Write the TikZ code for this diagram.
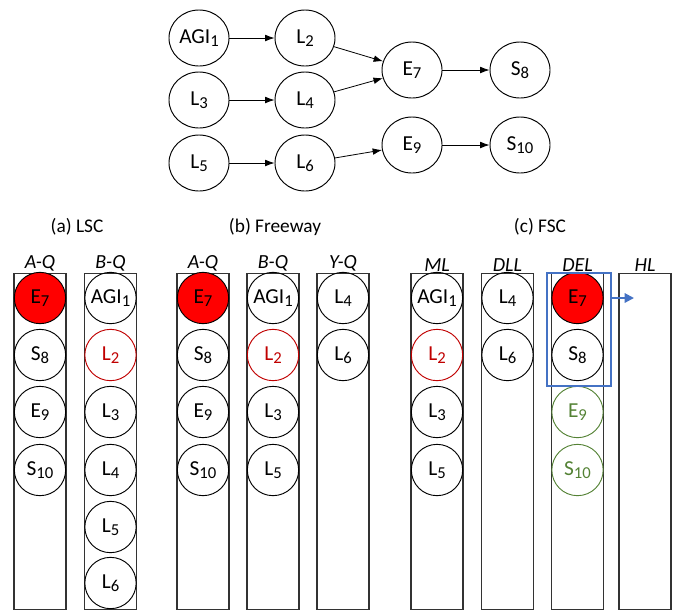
\documentclass[tikz,border=0pt]{standalone}
\usepackage{fontspec}
\setmainfont{Carlito}
\usetikzlibrary{arrows.meta,shapes.geometric}
\definecolor{myred}{HTML}{FF0000}
\definecolor{darkred}{HTML}{C00000}
\definecolor{mygreen}{HTML}{548235}
\definecolor{myblue}{HTML}{4472C4}
\definecolor{boxgray}{HTML}{333333}
\newcommand\tx[2]{#1\raisebox{-0.3ex}{\fontsize{12.5}{12.5}\selectfont #2}}
\begin{document}
\begin{tikzpicture}[x=0.75pt,y=-0.75pt,
  every node/.style={font=\fontsize{16}{18}\selectfont},
  gnode/.style={draw, ellipse, minimum width=45pt, minimum height=42pt, inner sep=0pt, line width=0.7pt},
  qnode/.style={draw, circle, minimum size=38.5pt, inner sep=0pt, line width=0.7pt},
  qbox/.style={draw=boxgray, rectangle, anchor=north, minimum width=39pt, minimum height=252pt, inner sep=0pt, line width=0.9pt},
  qlabel/.style={anchor=south, font=\fontsize{15}{17}\selectfont\itshape, inner sep=1pt},
  title/.style={font=\fontsize{14.5}{17}\selectfont},
  arr/.style={-{Latex[length=7pt,width=5pt]}, line width=0.6pt},
  redc/.style={qnode, fill=myred},
  redo/.style={qnode, draw=darkred, text=darkred},
  greeno/.style={qnode, draw=mygreen, text=mygreen}
]
\useasboundingbox (0,0) rectangle (673,611);
% top graph
\node[gnode] (agi) at (199,38) {\tx{AGI}{1}};
\node[gnode] (l2) at (305,38) {\tx{L}{2}};
\node[gnode] (l3) at (199,100) {\tx{L}{3}};
\node[gnode] (l4) at (305,100) {\tx{L}{4}};
\node[gnode] (l5) at (199,163) {\tx{L}{5}};
\node[gnode] (l6) at (305,163) {\tx{L}{6}};
\node[gnode] (e7) at (412,70) {\tx{E}{7}};
\node[gnode] (s8) at (520,70) {\tx{S}{8}};
\node[gnode] (e9) at (412,145) {\tx{E}{9}};
\node[gnode] (s10) at (520,145) {\tx{S}{10}};
\draw[arr] (agi) -- (l2);
\draw[arr] (l3) -- (l4);
\draw[arr] (l5) -- (l6);
\draw[arr] (l2) -- (e7);
\draw[arr] (l4) -- (e7);
\draw[arr] (l6) -- (e9);
\draw[arr] (e7) -- (s8);
\draw[arr] (e9) -- (s10);
% titles
\node[title] (ta) at (77,227) {(a) LSC};
\node[title] (tb) at (275,227) {(b) Freeway};
\node[title] (tc) at (540,227) {(c) FSC};
% boxes
\node[qbox] (b1) at (40,273) {};
\node[qbox] (b2) at (110.5,273) {};
\node[qbox] (b3) at (203,273) {};
\node[qbox] (b4) at (273,273) {};
\node[qbox] (b5) at (343,273) {};
\node[qbox] (b6) at (437,273) {};
\node[qbox] (b7) at (507.5,273) {};
\node[qbox] (b8) at (577.5,273) {};
\node[qbox] (b9) at (645,273) {};
\node[qlabel] (lb1) at (b1.north) {A-Q};
\node[qlabel] (lb2) at (b2.north) {B-Q};
\node[qlabel] (lb3) at (b3.north) {A-Q};
\node[qlabel] (lb4) at (b4.north) {B-Q};
\node[qlabel] (lb5) at (b5.north) {Y-Q};
\node[qlabel] (lb6) at (b6.north) {ML};
\node[qlabel] (lb7) at (b7.north) {DLL};
\node[qlabel] (lb8) at (b8.north) {DEL};
\node[qlabel] (lb9) at (b9.north) {HL};
% LSC A-Q
\node[redc] (a1) at (40,298) {\tx{E}{7}};
\node[qnode] (a2) at (40,355) {\tx{S}{8}};
\node[qnode] (a3) at (40,412) {\tx{E}{9}};
\node[qnode] (a4) at (40,470) {\tx{S}{10}};
% LSC B-Q
\node[qnode] (b21) at (110.5,298) {\tx{AGI}{1}};
\node[redo] (b22) at (110.5,355) {\tx{L}{2}};
\node[qnode] (b23) at (110.5,412) {\tx{L}{3}};
\node[qnode] (b24) at (110.5,470) {\tx{L}{4}};
\node[qnode] (b25) at (110.5,527) {\tx{L}{5}};
\node[qnode] (b26) at (110.5,583) {\tx{L}{6}};
% Freeway A-Q
\node[redc] (c1) at (203,298) {\tx{E}{7}};
\node[qnode] (c2) at (203,355) {\tx{S}{8}};
\node[qnode] (c3) at (203,412) {\tx{E}{9}};
\node[qnode] (c4) at (203,470) {\tx{S}{10}};
% Freeway B-Q
\node[qnode] (d1) at (273,298) {\tx{AGI}{1}};
\node[redo] (d2) at (273,355) {\tx{L}{2}};
\node[qnode] (d3) at (273,412) {\tx{L}{3}};
\node[qnode] (d4) at (273,470) {\tx{L}{5}};
% Freeway Y-Q
\node[qnode] (y1) at (343,298) {\tx{L}{4}};
\node[qnode] (y2) at (343,355) {\tx{L}{6}};
% FSC ML
\node[qnode] (m1) at (437,298) {\tx{AGI}{1}};
\node[redo] (m2) at (437,355) {\tx{L}{2}};
\node[qnode] (m3) at (437,412) {\tx{L}{3}};
\node[qnode] (m4) at (437,470) {\tx{L}{5}};
% FSC DLL
\node[qnode] (n1) at (507.5,298) {\tx{L}{4}};
\node[qnode] (n2) at (507.5,355) {\tx{L}{6}};
% FSC DEL
\node[redc] (p1) at (577.5,298) {\tx{E}{7}};
\node[qnode] (p2) at (577.5,355) {\tx{S}{8}};
\node[greeno] (p3) at (577.5,412) {\tx{E}{9}};
\node[greeno] (p4) at (577.5,470) {\tx{S}{10}};
% blue box
\draw[myblue, line width=1.5pt] (547,273) rectangle (611,386);
\coordinate (bs) at (611,298);
\coordinate (be) at (634,298);
\draw[myblue, line width=1.5pt, -{Triangle[length=7pt,width=7pt]}] (bs) -- (be);
\end{tikzpicture}
\end{document}
